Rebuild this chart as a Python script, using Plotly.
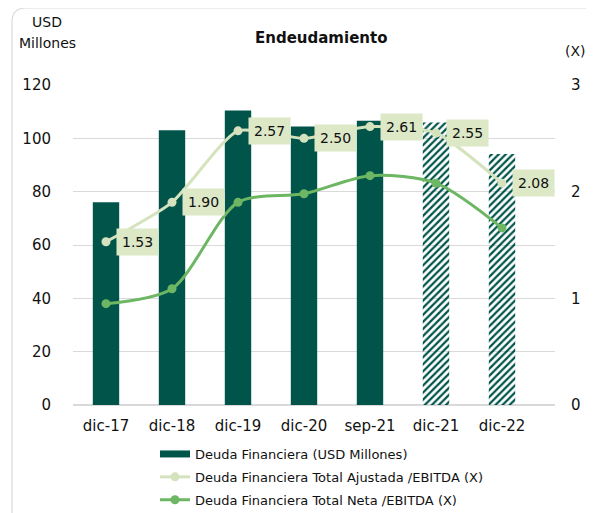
import plotly.graph_objects as go

categories = ["dic-17", "dic-18", "dic-19", "dic-20", "sep-21", "dic-21", "dic-22"]
deuda = [76, 103, 110.4, 104.4, 106.6, 105.9, 94.1]
ajustada = [1.53, 1.90, 2.57, 2.50, 2.61, 2.55, 2.08]
neta = [0.95, 1.09, 1.90, 1.98, 2.15, 2.08, 1.66]
projected = [False, False, False, False, False, True, True]
left_ticks = [0, 20, 40, 60, 80, 100, 120]
right_ticks = [0, 1, 2, 3]

BAR = "#00544a"
LIGHT = "#d4e3bd"
LABEL_BG = "#dce8c6"
MID = "#6db663"
FONT = "DejaVu Sans"

# the page body has an 8px margin; lay out in screen pixels and offset
OFF = 8
W, H = 594 - OFF, 513 - OFF
PX0, PX1, PY0, PY1 = 73, 555, 85, 405  # plot area in screen px
L, R, T, B = PX0 - OFF, W - (PX1 - OFF), PY0 - OFF, H - (PY1 - OFF)
pw, ph = W - L - R, H - T - B


def sx(p):
    return (p - OFF - L) / pw


def sy(p):
    return (H - B - (p - OFF)) / ph


act_x = [c for c, p in zip(categories, projected) if not p]
act_y = [v for v, p in zip(deuda, projected) if not p]
prj_x = [c for c, p in zip(categories, projected) if p]
prj_y = [v for v, p in zip(deuda, projected) if p]

fig = go.Figure()
fig.add_trace(go.Bar(
    x=act_x, y=act_y, name="Deuda Financiera (USD Millones)", showlegend=False,
    marker=dict(color=BAR, line=dict(width=0)), width=0.4,
))
fig.add_trace(go.Bar(
    x=prj_x, y=prj_y, name="Deuda Financiera (USD Millones)", showlegend=False,
    marker=dict(color=BAR, line=dict(width=0),
                pattern=dict(shape="/", fgcolor=BAR, bgcolor="rgba(255,255,255,0)",
                             fillmode="replace", fgopacity=1, size=5, solidity=0.45)),
    width=0.4,
))
# legend entry for the bars (wide rectangle swatch)
fig.add_trace(go.Scatter(
    x=[None], y=[None], name="Deuda Financiera (USD Millones)", legendgroup="a",
    mode="lines", line=dict(color=BAR, width=7),
))
fig.add_trace(go.Scatter(
    x=categories, y=ajustada, yaxis="y2", name="Deuda Financiera Total Ajustada /EBITDA (X)",
    legendgroup="b",
    mode="lines+markers", line=dict(color=LIGHT, width=3, shape="spline", smoothing=0.6),
    marker=dict(color=LIGHT, size=9),
))
fig.add_trace(go.Scatter(
    x=categories, y=neta, yaxis="y2", name="Deuda Financiera Total Neta /EBITDA (X)",
    legendgroup="c",
    mode="lines+markers", line=dict(color=MID, width=3, shape="spline", smoothing=0.8),
    marker=dict(color=MID, size=9),
))

for c, v in zip(categories, ajustada):
    fig.add_annotation(
        x=c, y=v, yref="y2", text=f"{v:.2f}", showarrow=False,
        xanchor="left", yanchor="middle", xshift=10,
        bgcolor=LABEL_BG, borderpad=5,
        font=dict(family=FONT, size=14, color="#111111"),
    )

# outer rounded frame
x0, y0, x1, y1, r = 12, 8, 640, 560, 14
path = (f"M {sx(x0)},{sy(y1)} L {sx(x0)},{sy(y0 + r)} "
        f"Q {sx(x0)},{sy(y0)} {sx(x0 + r)},{sy(y0)} L {sx(x1)},{sy(y0)}")
fig.add_shape(type="path", xref="paper", yref="paper", path=path,
              line=dict(color="#d9d9d9", width=1.2), layer="below")

fig.add_annotation(x=sx(47), y=sy(22), xref="paper", yref="paper", showarrow=False,
                   xanchor="center", yanchor="middle", text="USD",
                   font=dict(family=FONT, size=14, color="#111111"))
fig.add_annotation(x=sx(47), y=sy(43), xref="paper", yref="paper", showarrow=False,
                   xanchor="center", yanchor="middle", text="Millones",
                   font=dict(family=FONT, size=14, color="#111111"))
fig.add_annotation(x=sx(575), y=sy(51), xref="paper", yref="paper", showarrow=False,
                   xanchor="center", yanchor="middle",
                   text="(X)", font=dict(family=FONT, size=14, color="#111111"))
fig.add_annotation(x=sx(321), y=sy(38), xref="paper", yref="paper", showarrow=False,
                   xanchor="center", yanchor="middle",
                   text="<b>Endeudamiento</b>", font=dict(family=FONT, size=15, color="#111111"))

fig.update_layout(
    width=W, height=H,
    margin=dict(l=L, r=R, t=T, b=B, autoexpand=False),
    plot_bgcolor="white", paper_bgcolor="white",
    font=dict(family=FONT, size=14, color="#111111"),
    showlegend=True,
    barmode="overlay",
    legend=dict(x=sx(155), y=sy(439), xanchor="left", yanchor="top",
                font=dict(family=FONT, size=13, color="#111111"),
                traceorder="grouped", tracegroupgap=3,
                bgcolor="rgba(0,0,0,0)", itemwidth=30),
    xaxis=dict(showgrid=False, showline=False, ticks="", tickfont=dict(size=15),
               categoryorder="array", categoryarray=categories,
               ticklabelstandoff=10),
    yaxis=dict(range=[0, 120], tickvals=left_ticks, showgrid=True, gridcolor="#d9d9d9",
               gridwidth=1, zeroline=True, zerolinecolor="#d9d9d9",
               ticks="outside", ticklen=18, tickcolor="rgba(0,0,0,0)",
               tickfont=dict(size=15)),
    yaxis2=dict(range=[0, 3], tickvals=right_ticks, overlaying="y", side="right",
                showgrid=False, zeroline=False,
                ticks="outside", ticklen=12, tickcolor="rgba(0,0,0,0)",
                tickfont=dict(size=15)),
)
fig.write_html("out.html")
